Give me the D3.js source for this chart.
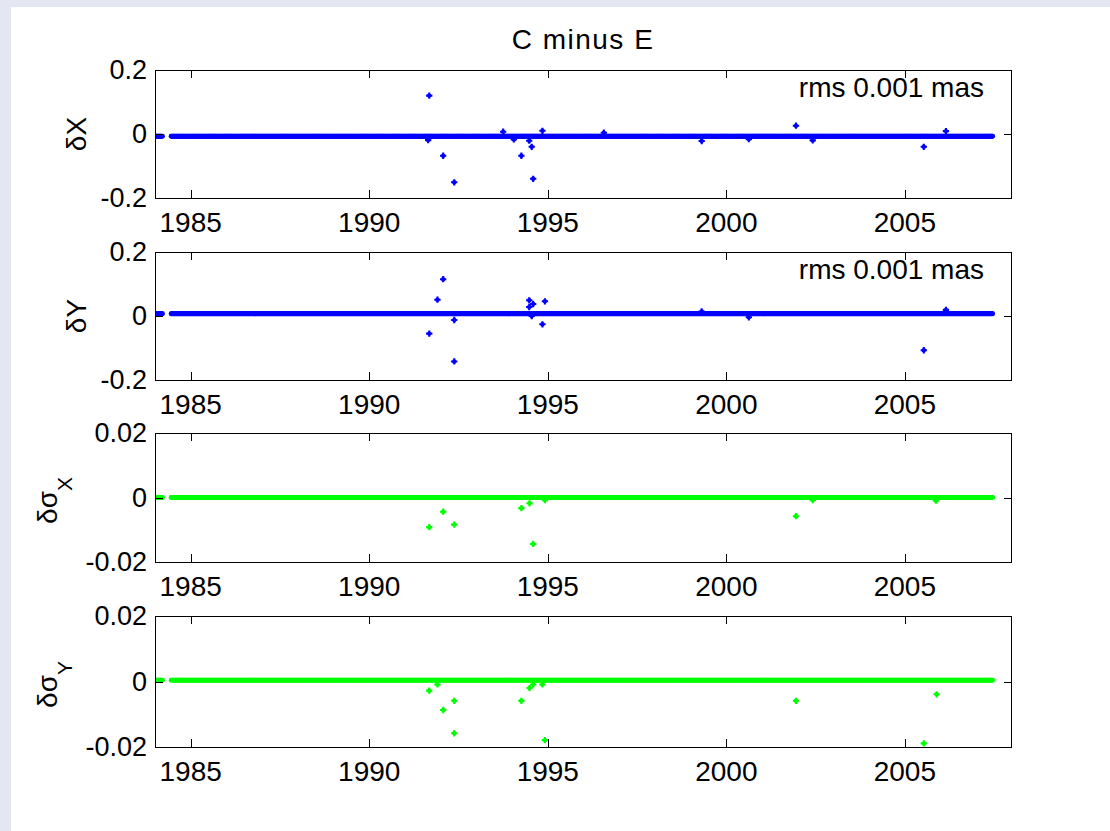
<!DOCTYPE html>
<html><head><meta charset="utf-8">
<script src="https://cdn.jsdelivr.net/npm/d3@7"></script>
<style>
html,body{margin:0;padding:0;background:#e4e6f1;}
svg{display:block;}
text{font-family:"Liberation Sans",Arial,sans-serif;fill:#000;}
</style></head>
<body>
<script>
// ---- data ----
const title = "C minus E";
const xDomain = [1984, 2008];
const xTicks = [1985, 1990, 1995, 2000, 2005];
// observing epochs span (with a gap early in 1984)
const bandSegments = [[1984.0, 1984.22], [1984.45, 2007.47]];
const bandStep = 0.015;

const panelLabels = ["δX", "δY", "δσ|X", "δσ|Y"];
const panelDomains = [[-0.2, 0.2], [-0.2, 0.2], [-0.02, 0.02], [-0.02, 0.02]];
const panelTicks = [[-0.2, 0, 0.2], [-0.2, 0, 0.2], [-0.02, 0, 0.02], [-0.02, 0, 0.02]];
const panelTickLabels = [["-0.2", "0", "0.2"], ["-0.2", "0", "0.2"], ["-0.02", "0", "0.02"], ["-0.02", "0", "0.02"]];
const panelColors = ["#0000ff", "#0000ff", "#00ff00", "#00ff00"];
const panelNotes = ["rms 0.001 mas", "rms 0.001 mas", "", ""];
const bandLevels = [-0.007, 0.007, 0.0, 0.0004];

const dXOutliers = [[1991.68,0.12],[1991.65,-0.019],[1992.07,-0.068],[1992.38,-0.151],[1993.75,0.007],[1994.05,-0.017],[1994.26,-0.068],[1994.48,-0.021],[1994.55,-0.04],[1994.59,-0.14],[1994.85,0.010],[1996.57,0.004],[1999.31,-0.022],[2000.63,-0.016],[2001.95,0.026],[2002.42,-0.02],[2005.53,-0.04],[2006.15,0.009]];
const dYOutliers = [[1992.07,0.115],[1991.91,0.051],[1991.68,-0.055],[1992.38,-0.0125],[1992.38,-0.142],[1994.48,0.049],[1994.59,0.0375],[1994.48,0.028],[1994.92,0.046],[1994.85,-0.026],[1994.55,0.0],[1999.31,0.014],[2000.63,-0.004],[2005.53,-0.107],[2006.15,0.019]];
const sXOutliers = [[1991.68,-0.0092],[1992.07,-0.0044],[1992.38,-0.0084],[1994.26,-0.0033],[1994.49,-0.0018],[1994.59,-0.0144],[1994.92,-0.0008],[2001.95,-0.0058],[2002.42,-0.0008],[2005.87,-0.001]];
const sYOutliers = [[1991.68,-0.0028],[1991.91,-0.0009],[1992.07,-0.0087],[1992.38,-0.0059],[1992.38,-0.0158],[1994.26,-0.0059],[1994.49,-0.002],[1994.59,-0.0009],[1994.85,-0.0009],[1994.92,-0.0179],[2001.95,-0.0059],[2005.89,-0.0039],[2005.53,-0.0189]];
const panelOutliers = [dXOutliers, dYOutliers, sXOutliers, sYOutliers];

// ---- layout ----
const W = 1110, H = 831;
const left = 155, right = 1012;
const panelTops = [70, 252, 433, 616];
const panelBottoms = [198, 380, 562, 747];

const svg = d3.select("body").append("svg").attr("width", W).attr("height", H);
svg.append("rect").attr("x", 11).attr("y", 7).attr("width", W - 11).attr("height", H - 7).attr("fill", "#fff");

svg.append("text").attr("x", 583).attr("y", 49).attr("text-anchor", "middle")
  .style("font-size", "28px").style("letter-spacing", "1.5px").text(title);

const x = d3.scaleLinear().domain(xDomain).range([left, right]);

const bandEpochs = [];
bandSegments.forEach(([a, b]) => d3.range(a, b + 1e-9, bandStep).forEach(t => bandEpochs.push(t)));

const plus = d3.symbol().type(d3.symbolCross).size(22);

panelLabels.forEach((lab, i) => {
  const top = panelTops[i], bot = panelBottoms[i];
  const y = d3.scaleLinear().domain(panelDomains[i]).range([bot, top]);
  const g = svg.append("g");
  const clipId = "clip" + i;
  svg.append("clipPath").attr("id", clipId).append("rect")
    .attr("x", left).attr("y", top - 1).attr("width", right - left).attr("height", bot - top + 2);

  const pts = g.append("g").attr("clip-path", `url(#${clipId})`);
  pts.selectAll("circle.band").data(bandEpochs).join("circle")
    .attr("class", "band").attr("cx", d => x(d)).attr("cy", y(bandLevels[i]))
    .attr("r", 2.4).attr("fill", panelColors[i]);
  pts.selectAll("path.out").data(panelOutliers[i]).join("path")
    .attr("class", "out").attr("d", plus)
    .attr("transform", d => `translate(${x(d[0])},${y(d[1])})`)
    .attr("fill", panelColors[i]);
  pts.selectAll("circle.out").data(panelOutliers[i]).join("circle")
    .attr("class", "out").attr("cx", d => x(d[0])).attr("cy", d => y(d[1]))
    .attr("r", 2.2).attr("fill", panelColors[i]);

  // box
  g.append("rect").attr("x", left + 0.5).attr("y", top + 0.5)
    .attr("width", right - left - 1).attr("height", bot - top)
    .attr("fill", "none").attr("stroke", "#000").attr("stroke-width", 1);

  const tl = 8;
  xTicks.forEach(t => {
    const px = Math.round(x(t)) + 0.5;
    g.append("line").attr("x1", px).attr("x2", px).attr("y1", bot).attr("y2", bot - tl).attr("stroke", "#000");
    g.append("line").attr("x1", px).attr("x2", px).attr("y1", top).attr("y2", top + tl).attr("stroke", "#000");
    g.append("text").attr("x", x(t)).attr("y", bot + 34).attr("text-anchor", "middle")
      .style("font-size", "28px").text(String(t));
  });
  panelTicks[i].forEach((t, k) => {
    const py = Math.round(y(t)) + 0.5;
    g.append("line").attr("x1", left).attr("x2", left + tl).attr("y1", py).attr("y2", py).attr("stroke", "#000");
    g.append("line").attr("x1", right).attr("x2", right - tl).attr("y1", py).attr("y2", py).attr("stroke", "#000");
    g.append("text").attr("x", 147).attr("y", y(t) + 9).attr("text-anchor", "end")
      .style("font-size", "27px").text(panelTickLabels[i][k]);
  });

  // y label
  const cy = (top + bot) / 2;
  const parts = lab.split("|");
  if (parts[1]) {
    const lt = g.append("text").attr("transform", `translate(57,${cy + 3}) rotate(-90)`)
      .attr("text-anchor", "middle").style("font-size", "28px");
    lt.append("tspan").text(parts[0]);
    lt.append("tspan").attr("dy", 15).style("font-size", "21px").text(parts[1]);
  } else {
    g.append("text").attr("transform", `translate(86,${cy}) rotate(-90)`)
      .attr("text-anchor", "middle").style("font-size", "28px").text(parts[0]);
  }

  if (panelNotes[i]) {
    g.append("text").attr("x", 984).attr("y", top + 27).attr("text-anchor", "end")
      .style("font-size", "28px").text(panelNotes[i]);
  }
});
</script>
</body></html>
